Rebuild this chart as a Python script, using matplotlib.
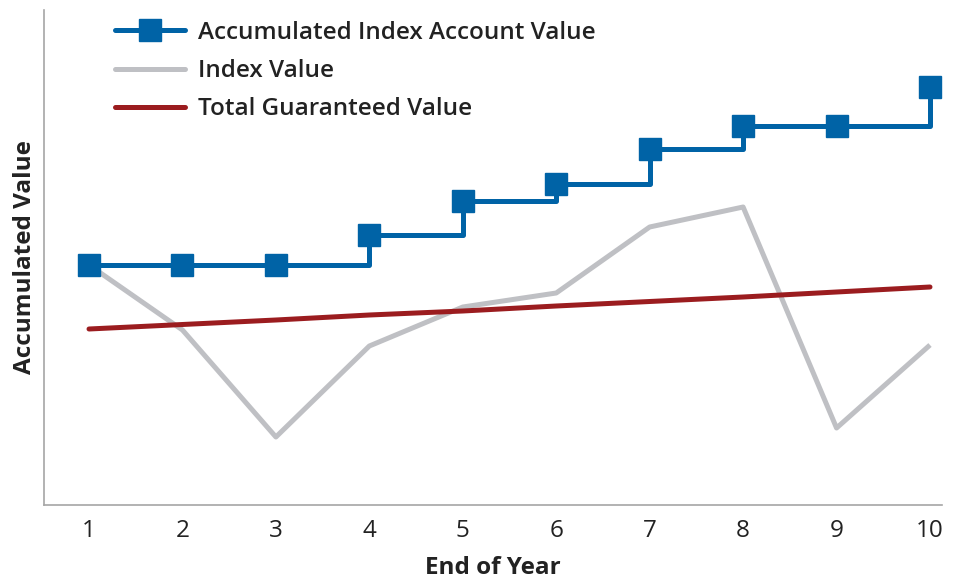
import matplotlib
matplotlib.use("Agg")
import matplotlib.pyplot as plt
from matplotlib.lines import Line2D

years = [1, 2, 3, 4, 5, 6, 7, 8, 9, 10]
accumulated = [240, 240, 240, 270, 304, 321, 356, 379, 379, 418]
index_value = [240, 175, 68, 159, 198, 212, 278, 298, 77, 160]
guaranteed = [176, 180.5, 185, 190, 194, 199, 203.5, 208, 213, 218]
tick_labels = ["1", "2", "3", "4", "5", "6", "7", "8", "9", "10"]

plt.rcParams['font.family'] = ['Open Sans', 'DejaVu Sans']

fig = plt.figure(figsize=(9.59, 5.79), dpi=100)
ax = fig.add_axes([44/959, (579-505)/579, (942-44)/959, (505-10)/579])

blue = '#0063a6'
gray = '#bfc0c4'
red = '#9b1c1f'

ax.plot(years, index_value, color=gray, lw=3.6, solid_capstyle='butt', zorder=2)
ax.plot(years, guaranteed, color=red, lw=3.6, solid_capstyle='round', zorder=3)
ax.plot(years, accumulated, color=blue, lw=3.6, drawstyle='steps-post', zorder=4)
ax.plot(years, accumulated, color=blue, lw=0, marker='s', markersize=16, zorder=5)

handles = [
    Line2D([], [], color=blue, lw=3.6, marker='s', markersize=16, solid_capstyle='round'),
    Line2D([], [], color=gray, lw=3.6, solid_capstyle='round'),
    Line2D([], [], color=red, lw=3.6, solid_capstyle='round'),
]
labels = ["Accumulated Index Account Value", "Index Value", "Total Guaranteed Value"]
fig.legend(handles, labels, loc='upper left', bbox_to_anchor=(115/959, 1-21/579),
           frameon=False, prop={'size': 17.5, 'weight': 600}, handlelength=2.9,
           handletextpad=0.5, labelspacing=0.58, borderpad=0, borderaxespad=0,
           labelcolor='#222222')

ax.set_xlim(1 - 45/93.4, 10 + 12/93.4)
ax.set_ylim(0, 495)
ax.set_xticks(years)
ax.set_xticklabels(tick_labels, fontsize=17.5, color='#222222')
ax.set_yticks([])
ax.tick_params(axis='x', length=0, pad=10)
for s in ['top', 'right']:
    ax.spines[s].set_visible(False)
for s in ['left', 'bottom']:
    ax.spines[s].set_color('#a6a6a6')
    ax.spines[s].set_linewidth(1.2)

ax.set_xlabel("End of Year", fontsize=17.5, fontweight='bold', color='#222222', labelpad=9.5)
ax.set_ylabel("Accumulated Value", fontsize=17.5, fontweight='bold', color='#222222', labelpad=5)

fig.savefig("out.png", dpi=100)
